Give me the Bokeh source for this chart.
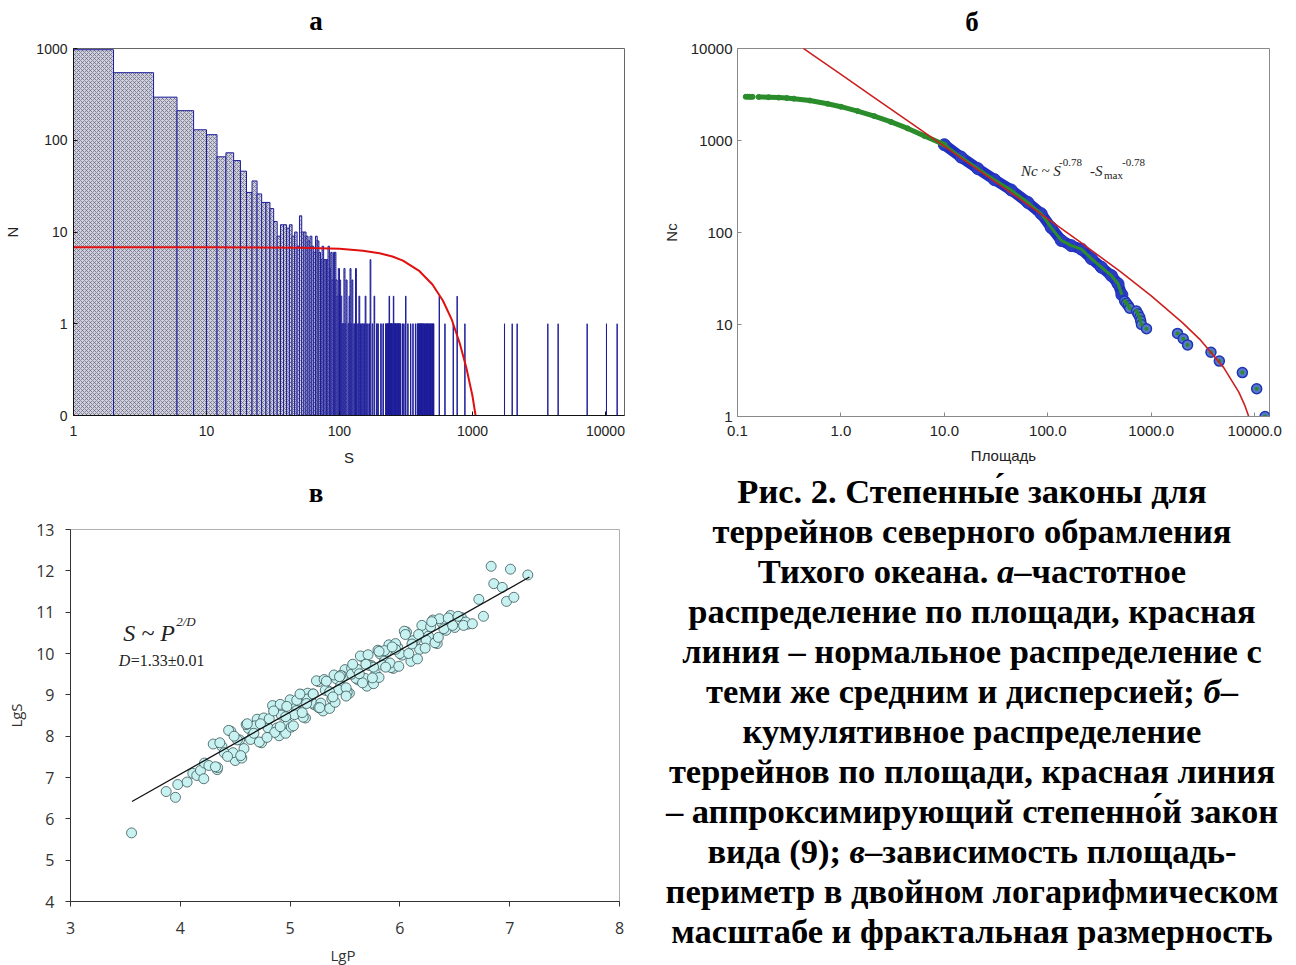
from bokeh.plotting import figure
from bokeh.layouts import column, row
from bokeh.models import FixedTicker, Range1d, Div
from bokeh.core.properties import value
from bokeh.embed import file_html
from bokeh.resources import INLINE

# ---------------- Panel а : frequency histogram ----------------
a_bin_width = 2
a_bin_left = [0, 2, 4, 6, 8, 10, 12, 14, 16, 18, 20, 22, 24, 26, 28, 30, 32, 34, 36, 38,
              40, 42, 44, 46, 48, 50, 52, 54, 56, 58, 60, 62, 64, 66, 68, 70, 72, 74, 76, 78,
              80, 82, 84, 86, 88, 90, 92, 94, 96, 98,
              100, 102, 104, 106, 108, 110, 112, 116, 118, 120, 122, 124, 128, 132, 134, 138,
              140, 144, 148, 152, 156, 160, 166, 170, 176, 182, 190, 194, 204, 212, 222, 226,
              228, 230, 232, 234, 236, 238, 240, 242, 244, 246, 250, 252, 254, 256, 258, 260,
              262, 264, 268, 270, 272, 274, 276, 278, 282, 284, 286, 296, 304, 314, 326, 342,
              356, 372, 384, 388, 392, 396, 400, 404, 408, 410, 414, 418, 422, 426, 430, 436,
              440, 446, 450, 456, 460, 466, 470, 476, 482, 488, 494, 500, 506, 510, 562, 620,
              716, 766, 876, 1740, 1988, 2166, 3684, 4406, 7282, 10174, 12240]
a_bin_count = [970, 545, 295, 210, 130, 115, 66, 73, 60, 46, 27, 36, 26, 21, 21, 18, 13, 9, 12, 12,
               11, 12, 9, 10, 7, 15, 10, 10, 9, 8, 9, 7, 6, 9, 8, 6, 5, 7, 5, 5,
               5, 7, 4, 6, 3, 6, 6, 3, 2, 4,
               3, 2, 1, 1, 4, 1, 3, 1, 2, 4, 1, 3, 1, 4, 1, 1,
               2, 1, 1, 1, 2, 1, 1, 5, 1, 2, 1, 1, 1, 1, 1, 1,
               1, 1, 1, 1, 2, 1, 1, 1, 1, 1, 1, 1, 2, 1, 1, 1,
               1, 1, 1, 1, 1, 1, 1, 1, 1, 1, 1, 1, 1, 2, 1, 1,
               1, 1, 1, 1, 1, 1, 1, 1, 1, 1, 1, 1, 1, 1, 1, 1,
               1, 1, 1, 1, 1, 1, 1, 1, 1, 1, 1, 1, 1, 1, 2, 1,
               1, 2, 1, 1, 1, 1, 1, 1, 1, 1, 1]
a_norm_S = [1, 10, 50, 100, 150, 200, 250, 300, 400, 500, 600, 700, 800, 900, 1000, 1055]
a_norm_N = [6.8, 6.8, 6.74, 6.55, 6.25, 5.87, 5.4, 4.88, 3.74, 2.68, 1.78, 1.1, 0.62, 0.33, 0.163, 0.1]
a_x_ticks = [1, 10, 100, 1000, 10000]
a_x_labels = ["1", "10", "100", "1000", "10000"]
a_y_ticks = [0.1, 1, 10, 100, 1000]
a_y_labels = ["0", "1", "10", "100", "1000"]

# ---------------- Panel б : cumulative distribution ----------------
b_green_S = [0.12, 0.125, 0.13, 0.135, 0.14, 0.16, 0.2, 0.25, 0.3, 0.35, 0.5, 0.74, 1.0,
             1.45, 2.1, 3.05, 4.42, 6.4, 9.3, 10.0]
b_green_N = [2990, 2988, 2985, 2983, 2980, 2975, 2955, 2925, 2890, 2850, 2720, 2510, 2330,
             2089, 1841, 1592, 1352, 1122, 935, 900]
b_band_S = [10, 14.5, 21.0, 30.5, 44.2, 64.1, 86.3, 107.9, 134.9, 168.6, 210.7, 263.4, 329.2,
            411.6, 477.5, 520]
b_band_N = [900, 660, 495, 375, 290, 212, 160, 113, 82, 72, 66, 52, 42, 34, 27.7, 21]
b_tail_S = [553, 575, 600, 619, 719, 745, 774, 790, 804, 899, 1795, 2037, 2244, 3776, 4550,
            7600, 10450, 12590]
b_tail_N = [18, 17, 16, 15, 14, 13, 12, 11, 10, 9, 8, 7, 6, 5, 4, 3, 2, 1]
b_fit_S = [0.43, 0.5, 1, 2, 5, 10, 20, 50, 100, 200, 500, 1000, 2000, 3000, 5000, 7000, 8000,
           9000, 10000]
b_fit_N = [10100, 8977, 5227, 3042, 1487, 865, 502, 244, 140.6, 80.5, 37.7, 20.5, 10.5, 6.76,
           3.42, 1.85, 1.33, 0.915, 0.575]
b_x_ticks = [0.1, 1, 10, 100, 1000, 10000]
b_x_labels = ["0.1", "1.0", "10.0", "100.0", "1000.0", "10000.0"]
b_y_ticks = [1, 10, 100, 1000, 10000]
b_y_labels = ["1", "10", "100", "1000", "10000"]

# ---------------- Panel в : area-perimeter ----------------
c_lgP_low = [3.556, 3.871, 3.956, 3.977, 4.062, 4.114, 4.15, 4.184, 4.214, 4.22, 4.26, 4.336]
c_lgS_low = [5.66, 6.66, 6.52, 6.83, 6.89, 7.10, 7.05, 7.17, 6.97, 7.35, 7.29, 7.19]
c_lgP_a = [4.30, 4.34, 4.38, 4.42, 4.46, 4.50, 4.54, 4.58, 4.62, 4.66, 4.70, 4.74, 4.78, 4.82,
           4.86, 4.90, 4.94, 4.98, 5.02, 5.06, 5.10, 5.14, 5.18, 5.22, 5.26, 5.30, 5.34, 5.38,
           5.42, 5.46, 5.50, 5.54, 5.58, 5.62, 5.66, 5.70, 5.74, 5.78, 5.82, 5.86, 5.90, 5.94,
           5.98, 6.02, 6.06, 6.10, 6.14, 6.18, 6.22, 6.26, 6.30, 6.34, 6.38, 6.42, 6.46, 6.50,
           6.56, 6.62]
c_lgS_a = [7.81, 7.24, 7.75, 7.56, 8.12, 7.41, 7.91, 7.70, 8.19, 8.02, 8.41, 7.84, 8.35, 8.16,
           8.72, 8.01, 8.51, 8.30, 8.79, 8.62, 9.01, 8.44, 8.95, 8.76, 9.32, 8.61, 9.11, 8.90,
           9.39, 9.22, 9.61, 9.04, 9.55, 9.36, 9.92, 9.21, 9.71, 9.50, 9.99, 9.82, 10.21, 9.64,
           10.15, 9.96, 10.52, 9.81, 10.31, 10.10, 10.59, 10.42, 10.81, 10.24, 10.75, 10.56, 10.92,
           10.63, 10.87, 10.71]
c_lgP_b = [4.32, 4.36, 4.40, 4.44, 4.48, 4.52, 4.56, 4.60, 4.64, 4.68, 4.72, 4.76, 4.80, 4.84,
           4.88, 4.92, 4.96, 5.00, 5.04, 5.08, 5.12, 5.16, 5.20, 5.24, 5.28, 5.32, 5.36, 5.40,
           5.44, 5.48, 5.52, 5.56, 5.60, 5.64, 5.68, 5.72, 5.76, 5.80, 5.84, 5.88, 5.92, 5.96,
           6.00, 6.04, 6.08, 6.12, 6.16, 6.20, 6.24, 6.28, 6.32, 6.36, 6.40, 6.44, 6.48, 6.53, 6.60]
c_lgS_b = [7.26, 7.84, 7.60, 8.14, 7.60, 7.91, 7.47, 8.28, 7.92, 8.25, 7.86, 8.44, 8.20, 8.74,
           8.20, 8.51, 8.07, 8.88, 8.52, 8.85, 8.46, 9.04, 8.80, 9.34, 8.80, 9.11, 8.67, 9.48,
           9.12, 9.45, 9.06, 9.64, 9.40, 9.94, 9.40, 9.71, 9.27, 10.08, 9.72, 10.05, 9.66, 10.24,
           10.00, 10.54, 10.00, 10.31, 9.87, 10.68, 10.32, 10.65, 10.26, 10.84, 10.60, 10.86, 10.68,
           10.90, 10.76]
c_lgP_c = [4.81, 4.86, 4.91, 4.96, 5.01, 5.06, 5.11, 5.16, 5.21, 5.26, 5.31, 5.36, 5.41, 5.46,
           5.51, 5.56, 5.61, 5.66, 5.71, 5.76, 5.81, 5.86, 5.91, 5.96]
c_lgS_c = [8.42, 8.09, 8.77, 8.47, 8.22, 8.87, 8.57, 8.90, 9.02, 8.69, 9.37, 9.07, 8.82, 9.47,
           9.17, 9.50, 9.62, 9.29, 9.97, 9.67, 9.42, 10.07, 9.77, 10.10]
c_lgP_d = [4.43, 4.49, 4.55, 4.61, 4.67, 4.73, 4.79, 4.85, 4.91, 4.97, 5.03, 5.09, 5.15, 5.21,
           5.27, 5.33, 5.39, 5.45, 5.51, 5.57, 5.63, 5.69, 5.75, 5.81, 5.87, 5.93, 5.99, 6.05,
           6.11, 6.17, 6.23, 6.29, 6.35]
c_lgS_d = [7.51, 8.00, 7.53, 8.30, 8.07, 8.30, 7.97, 8.61, 8.23, 8.72, 8.25, 9.02, 8.79, 9.02,
           8.69, 9.33, 8.95, 9.44, 8.97, 9.74, 9.51, 9.74, 9.41, 10.05, 9.67, 10.16, 9.69, 10.46,
           10.23, 10.46, 10.13, 10.77, 10.39]
c_lgP_high = [6.58, 6.66, 6.719, 6.761, 6.831, 6.855, 6.932, 6.971, 7.007, 7.038, 7.165]
c_lgS_high = [10.68, 10.72, 11.31, 10.90, 12.11, 11.69, 11.60, 11.26, 12.04, 11.36, 11.90]
c_fit_P = [3.56, 7.18]
c_fit_S = [6.42, 11.85]
c_x_ticks = [3, 4, 5, 6, 7, 8]
c_y_ticks = [4, 5, 6, 7, 8, 9, 10, 11, 12, 13]

panel_titles = ["а", "б", "в"]
caption_lines = [
    "Рис. 2. Степенны́е законы для",
    "террейнов северного обрамления",
    "Тихого океана. <i>а</i>–частотное",
    "распределение по площади, красная",
    "линия – нормальное распределение с",
    "теми же средним и дисперсией; <i>б</i>–",
    "кумулятивное распределение",
    "террейнов по площади, красная линия",
    "– аппроксимирующий степенно́й закон",
    "вида (9); <i>в</i>–зависимость площадь-",
    "периметр в двойном логарифмическом",
    "масштабе и фрактальная размерность",
]

SERIF = "Liberation Serif"
SANS = "Liberation Sans"


def letter_div(txt, pad_left, box_width, line_h, pad_top, height):
    html = ('<div style="margin:0;padding-left:%dpx;padding-top:%dpx;width:%dpx;'
            'text-align:center;font-family:\'Liberation Serif\';font-weight:bold;'
            'font-size:27px;line-height:%dpx;color:#000;">%s</div>'
            % (pad_left, pad_top, box_width, line_h, txt))
    return Div(text=html, width=648, height=height, margin=0)


def style_axes(p, font, size, color, axis_color, tick_in, tick_out):
    for ax in (p.xaxis[0], p.yaxis[0]):
        ax.major_label_text_font = font
        ax.major_label_text_font_size = size
        ax.major_label_text_color = color
        ax.axis_label_text_font = font
        ax.axis_label_text_font_size = "15px"
        ax.axis_label_text_font_style = "normal"
        ax.axis_label_text_color = color
        ax.axis_line_color = axis_color
        ax.major_tick_line_color = axis_color
        ax.major_tick_in = tick_in
        ax.major_tick_out = tick_out
        ax.minor_tick_line_color = None
    p.grid.visible = False


# ---------- figure а ----------
A_XMIN, A_XMAX, A_YMIN, A_YMAX = 1, 13900, 0.1, 1000
pa = figure(width=648, height=435, x_axis_type="log", y_axis_type="log",
            x_range=Range1d(A_XMIN, A_XMAX), y_range=Range1d(A_YMIN, A_YMAX),
            min_border_left=73, min_border_right=24, min_border_top=8, min_border_bottom=60,
            output_backend="svg", toolbar_location=None)
style_axes(pa, SANS, "14px", "#222222", "#111111", 4, 0)
pa.outline_line_color = "#666666"
pa.xaxis.ticker = FixedTicker(ticks=a_x_ticks)
pa.xaxis.major_label_overrides = dict(zip(a_x_ticks, a_x_labels))
pa.yaxis.ticker = FixedTicker(ticks=a_y_ticks)
pa.yaxis.major_label_overrides = dict(zip(a_y_ticks, a_y_labels))
pa.xaxis.axis_label = "S"
pa.yaxis.axis_label = "N"
pa.yaxis.axis_label_standoff = 12
pa.yaxis.major_label_standoff = 6
pa.xaxis.axis_label_standoff = 10
pa.xaxis.major_label_standoff = 10

a_left = [max(v, A_XMIN) for v in a_bin_left]
a_right = [v + a_bin_width for v in a_bin_left]
pa.quad(left=a_left, right=a_right, bottom=A_YMIN, top=a_bin_count,
        fill_color="#d2d2de", hatch_pattern="diagonal_cross", hatch_color="#62627c",
        hatch_scale=4, hatch_weight=0.7, line_color="#1c1c9a", line_width=1)
pa.line(a_norm_S, a_norm_N, line_color="#e01010", line_width=2)

# ---------- figure б ----------
pb = figure(width=648, height=435, x_axis_type="log", y_axis_type="log",
            x_range=Range1d(0.1, 13900), y_range=Range1d(1, 10000),
            min_border_left=89, min_border_right=27, min_border_top=8, min_border_bottom=59,
            output_backend="svg", toolbar_location=None)
style_axes(pb, SANS, "15px", "#222222", "#8a8a8a", 4, 0)
pb.outline_line_color = "#8a8a8a"
pb.xaxis.ticker = FixedTicker(ticks=b_x_ticks)
pb.xaxis.major_label_overrides = dict(zip(b_x_ticks, b_x_labels))
pb.yaxis.ticker = FixedTicker(ticks=b_y_ticks)
pb.yaxis.major_label_overrides = dict(zip(b_y_ticks, b_y_labels))
pb.xaxis.axis_label = "Площадь"
pb.yaxis.axis_label = "Nc"
pb.yaxis.axis_label_standoff = 8
pb.xaxis.axis_label_standoff = 8
pb.xaxis.major_label_standoff = 9

pb.line(b_band_S, b_band_N, line_color="#1f2fc0", line_width=11)
pb.scatter(b_band_S, b_band_N, size=12, fill_color="#2a3cc4", line_color="#1f2fc0")
pb.scatter(b_tail_S, b_tail_N, size=10, fill_color="#5a78c8", line_color="#1f35b8", line_width=1.5)
pb.line(b_green_S[5:], b_green_N[5:], line_color="#2a8c2a", line_width=5)
pb.scatter(b_green_S, b_green_N, size=5, fill_color="#2a8c2a", line_color="#2a8c2a")
pb.line(b_band_S, b_band_N, line_color="#2a8c2a", line_width=3)
pb.scatter(b_tail_S, b_tail_N, size=4, fill_color="#2a8c2a", line_color=None)
pb.line(b_fit_S, b_fit_N, line_color="#cc2020", line_width=1.6)

b_ann_S, b_ann_N = [55], [470]
pb.text(b_ann_S, b_ann_N, text=["Nc ~ S"], text_font=value(SERIF), text_font_style="italic",
        text_font_size="15px", text_color="#222222", text_baseline="alphabetic")
pb.text(b_ann_S, b_ann_N, text=["-0.78"], text_font=value(SERIF), text_font_size="11px",
        text_color="#222222", text_baseline="alphabetic", x_offset=38, y_offset=-8)
pb.text(b_ann_S, b_ann_N, text=["-S"], text_font=value(SERIF), text_font_style="italic",
        text_font_size="15px", text_color="#222222", text_baseline="alphabetic", x_offset=69)
pb.text(b_ann_S, b_ann_N, text=["max"], text_font=value(SERIF), text_font_size="11px",
        text_color="#222222", text_baseline="alphabetic", x_offset=83, y_offset=4)
pb.text(b_ann_S, b_ann_N, text=["-0.78"], text_font=value(SERIF), text_font_size="11px",
        text_color="#222222", text_baseline="alphabetic", x_offset=101, y_offset=-8)

# ---------- figure в ----------
pc = figure(width=648, height=436, x_range=Range1d(3, 8), y_range=Range1d(4, 13),
            min_border_left=70, min_border_right=29, min_border_top=20, min_border_bottom=44,
            output_backend="svg", toolbar_location=None)
style_axes(pc, "Open Sans", "16px", "#333333", "#333333", 0, 5)
pc.outline_line_color = "#b0b0b0"
pc.xaxis.ticker = FixedTicker(ticks=c_x_ticks)
pc.yaxis.ticker = FixedTicker(ticks=c_y_ticks)
pc.yaxis.axis_label = "LgS"
pc.yaxis.axis_label_standoff = 7
pc.yaxis.major_label_standoff = 11
pc.xaxis.major_label_standoff = 15

c_lgP = c_lgP_low + c_lgP_a + c_lgP_b + c_lgP_c + c_lgP_d + c_lgP_high
c_lgS = c_lgS_low + c_lgS_a + c_lgS_b + c_lgS_c + c_lgS_d + c_lgS_high
pc.scatter(c_lgP, c_lgS, size=10, fill_color="#c8f2f2", line_color="#3a5656", line_width=0.8)
pc.line(c_fit_P, c_fit_S, line_color="#111111", line_width=1.3)

c_ann_P, c_ann_S = [3.48], [10.5]
pc.text(c_ann_P, c_ann_S, text=["S ~ P"], text_font=value(SERIF), text_font_style="italic",
        text_font_size="24px", text_color="#222222", text_baseline="alphabetic")
pc.text(c_ann_P, c_ann_S, text=["2/D"], text_font=value(SERIF), text_font_style="italic",
        text_font_size="13px", text_color="#222222", text_baseline="alphabetic",
        x_offset=53, y_offset=-11)
c_ann2_P, c_ann2_S = [3.44], [9.83]
pc.text(c_ann2_P, c_ann2_S, text=["D"], text_font=value(SERIF), text_font_style="italic",
        text_font_size="16px", text_color="#222222", text_baseline="alphabetic")
pc.text(c_ann2_P, c_ann2_S, text=["=1.33±0.01"], text_font=value(SERIF),
        text_font_size="16px", text_color="#222222", text_baseline="alphabetic", x_offset=12)

c_xlabel = "LgP"
div_lgp = Div(text=('<div style="margin:0;position:relative;left:19px;width:648px;'
                    'text-align:center;font-family:\'Open Sans\';font-size:15px;'
                    'line-height:20px;color:#333;">' + c_xlabel + '</div>'),
              width=648, height=20, margin=0)

# ---------- panel letters and caption ----------
div_a = letter_div(panel_titles[0], 0, 632, 38, 2, 40)
div_b = letter_div(panel_titles[1], 2, 646, 44, 0, 40)
div_c = letter_div(panel_titles[2], 0, 632, 32, 2, 34)

cap_html = ('<div style="margin-top:-4px;width:648px;text-align:center;'
            'font-family:\'Liberation Serif\';font-weight:bold;font-size:34.5px;'
            'line-height:40px;color:#000;">' + "<br>".join(caption_lines) + '</div>')
div_cap = Div(text=cap_html, width=648, height=490, margin=0)

layout = column(row(column(div_a, pa), column(div_b, pb)),
                row(column(div_c, pc, div_lgp), div_cap))
open("out.html", "w").write(file_html(layout, INLINE))
